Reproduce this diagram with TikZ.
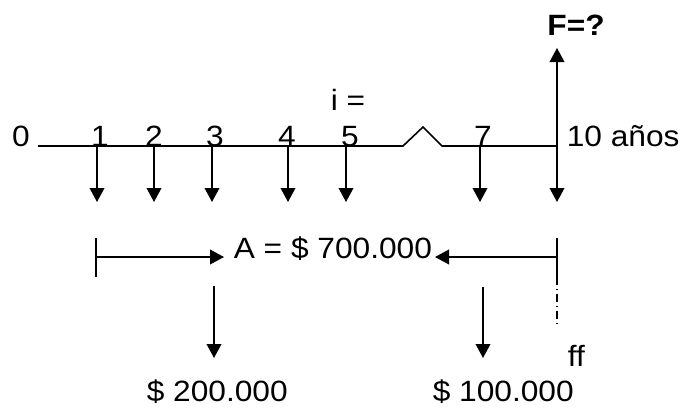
\documentclass[tikz,border=0pt]{standalone}
\usepackage{fontspec}
\setmainfont[FakeStretch=1.08]{Liberation Sans}
\usetikzlibrary{arrows.meta}
\begin{document}
\begin{tikzpicture}[x=0.75pt,y=-0.75pt,line width=1.2pt,
  lbl/.style={font=\fontsize{22pt}{26pt}\selectfont, inner sep=0pt, anchor=base},
  lblw/.style={lbl, anchor=base west},
  flow/.style={-{Triangle[length=10.5pt,width=11pt]}},
  dashdot/.style={line width=0.9pt, dash pattern=on 6pt off 3pt on 0.8pt off 3pt}]
\useasboundingbox (0,0) rectangle (680,407);
% timeline with break
\coordinate (L0) at (38,146);
\coordinate (B1) at (403,146);
\coordinate (Bp) at (423,127);
\coordinate (B2) at (442,146);
\coordinate (t10) at (557,146);
\draw (L0) -- (B1) -- (Bp) -- (B2) -- (t10);
% period labels
\node[lbl] (n0) at (21,146) {0};
\node[lbl] (n1) at (100,146) {1};
\node[lbl] (n2) at (154,146) {2};
\node[lbl] (n3) at (215,146) {3};
\node[lbl] (n4) at (287,146) {4};
\node[lbl] (n5) at (350,146) {5};
\node[lbl] (n7) at (483,146) {7};
\node[lblw] (n10) at (566,146) {10 años};
\node[lbl] (i) at (348,110) {i =};
\node[lbl, font=\fontsize{22pt}{26pt}\selectfont\bfseries] (F) at (576,35) {F=?};
% downward payment arrows
\foreach \x/\n in {97/1,154/2,212/3,288/4,346/5,480/7}{
  \coordinate (t\n) at (\x,146);
  \coordinate (d\n) at (\x,202);
  \draw[flow] (t\n) -- (d\n);
}
\coordinate (d10) at (557,202);
\coordinate (up) at (557,48);
\draw[flow] (t10) -- (d10);
\draw[flow] (t10) -- (up);
% annuity bracket
\node[lblw] (A) at (233,258) {A = \$ 700.000};
\coordinate (lbT) at (96,238);
\coordinate (lbB) at (96,277);
\coordinate (lbM) at (96,257);
\coordinate (aL) at (224,257);
\draw (lbT) -- (lbB);
\draw[flow] (lbM) -- (aL);
\coordinate (rbT) at (557,238);
\coordinate (rbB) at (557,277);
\coordinate (rbM) at (557,257);
\coordinate (aR) at (435,257);
\coordinate (rbD) at (557,325);
\draw (rbT) -- (rbB);
\draw[flow] (rbM) -- (aR);
\draw[dashdot] (rbB) -- (rbD);
% extra payments
\coordinate (p1) at (214,286);
\coordinate (q1) at (214,358);
\coordinate (p2) at (483,287);
\coordinate (q2) at (483,358);
\draw[flow] (p1) -- (q1);
\draw[flow] (p2) -- (q2);
\node[lblw] (v1) at (146,401) {\$ 200.000};
\node[lblw] (v2) at (432,401) {\$ 100.000};
\node[lblw] (ff) at (567,366) {ff};
\end{tikzpicture}
\end{document}
